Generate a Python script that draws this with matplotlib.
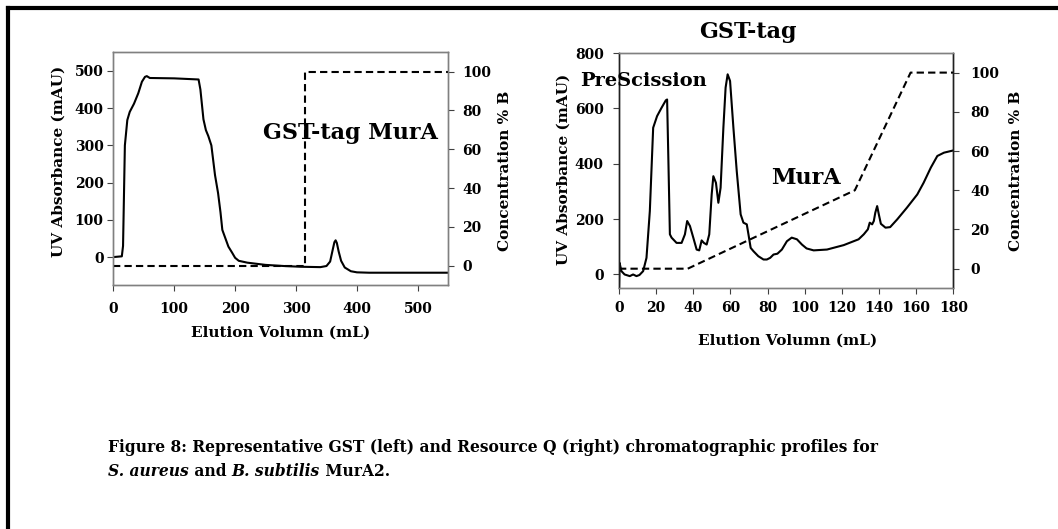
import numpy as np
import matplotlib
matplotlib.use("Agg")
import matplotlib.pyplot as plt
from matplotlib.lines import Line2D

plt.rcParams['font.family'] = ['DejaVu Serif']
plt.rcParams['font.weight'] = 'bold'

# GST column run: UV trace (mAU) and buffer B gradient (%)
gst_vol = [0, 14, 16, 19, 23, 27, 34, 41, 47, 52, 55, 60, 100, 140, 143, 148,
           152, 156, 161, 167, 172, 176, 179, 183, 189, 195, 200, 206, 220,
           250, 280, 308, 340, 350, 356, 360, 363, 365, 367, 370, 374, 380,
           390, 400, 420, 480, 550]
gst_uv = [0, 2, 30, 300, 368, 390, 412, 440, 471, 484, 486, 481, 480, 477,
          450, 370, 341, 325, 300, 220, 172, 120, 73, 55, 28, 12, -2, -10,
          -15, -21, -24, -26, -27, -24, -12, 18, 40, 45, 38, 15, -10, -28,
          -38, -41, -42, -42, -42]
gst_grad_vol = [0, 315, 315, 550]
gst_grad_b = [0, 0, 100, 100]

# Resource Q run
rq_vol = [0, 0.3, 1.3, 3, 5.8, 7.6, 9.4, 11, 13, 14.8, 16.6, 18.4, 20.5,
          22.9, 25.2, 25.9, 26.6, 27.4, 28.3, 31, 33.7, 35.5, 36.7, 38.2,
          40, 41.8, 43.2, 44.5, 45.7, 47.2, 48.6, 49.9, 50.8, 52.2, 53.5,
          54.7, 56.2, 57.4, 58.5, 59.8, 61.6, 63.4, 65.5, 67, 68.8, 69.7,
          70.9, 72.4, 75, 77.8, 79.6, 81.4, 83.2, 85.3, 87.7, 90.4, 93,
          95.8, 98.5, 101, 104.8, 112, 121, 129, 131.8, 134, 135, 136.3,
          137.2, 138, 139, 139.9, 141, 143.5, 146, 149.8, 155, 160.6, 164,
          167.9, 171.4, 175, 180]
rq_uv = [-50, 42, 12, 0, -6, 0, -6, -2, 12, 60, 229, 530, 572, 602, 629,
         632, 410, 145, 133, 114, 114, 145, 193, 175, 133, 90, 87, 123, 114,
         108, 145, 289, 355, 331, 259, 313, 530, 675, 723, 699, 530, 373,
         217, 187, 181, 145, 96, 84, 66, 54, 54, 60, 72, 75, 90, 120, 133,
         127, 108, 94, 87, 90, 106, 127, 145, 163, 187, 181, 193, 223, 247,
         217, 183, 169, 171, 199, 241, 289, 331, 386, 428, 440, 448]
rq_grad_vol = [0, 37, 127, 157, 180]
rq_grad_b = [0, 0, 40, 100, 100]

W, H = 1058, 529
spine_col = '#808080'
dash = (0, (3.5, 2))
tick_fs = 10
label_fs = 11


def px(x, y):
    # pixel position (from top-left) -> figure fraction
    return x / W, 1 - y / H


def setup(ax, ax2, xpad, lpad, rpad, ylab_pos, y2lab_pos, xlab_pos,
          side_col=spine_col):
    for a in (ax, ax2):
        for s in a.spines.values():
            s.set_color(spine_col)
            s.set_linewidth(1.0)
        a.spines['left'].set_color(side_col)
        a.spines['right'].set_color(side_col)
    ax.tick_params(axis='x', direction='out', length=4, width=0.8,
                   color='#404040', labelsize=tick_fs, pad=xpad)
    ax.tick_params(axis='y', direction='out', length=4, width=0.8,
                   color='#404040', labelsize=tick_fs, pad=lpad)
    ax2.set_ylim(-10, 110)
    ax2.set_yticks([0, 20, 40, 60, 80, 100])
    ax2.tick_params(axis='y', direction='out', length=4, width=0.8,
                    color='#404040', labelsize=tick_fs, pad=rpad)
    ax.text(*ylab_pos, 'UV Absorbance (mAU)', transform=ax.transAxes,
            rotation=90, ha='center', va='center', fontsize=label_fs)
    ax.text(*y2lab_pos, 'Concentration % B', transform=ax.transAxes,
            rotation=90, ha='center', va='center', fontsize=label_fs)
    ax.text(*xlab_pos, 'Elution Volumn (mL)', transform=ax.transAxes,
            ha='center', va='center', fontsize=label_fs)


fig = plt.figure(figsize=(W / 100, H / 100), dpi=100)

# left chromatogram (GST)
ax1 = fig.add_axes([113.3 / W, 1 - 285 / H, 335 / W, 232.7 / H])
ax1b = ax1.twinx()
ax1.plot(gst_vol, gst_uv, color='black', lw=1.5)
ax1b.plot(gst_grad_vol, gst_grad_b, color='black', lw=1.5, linestyle=dash)
ax1.set_xlim(0, 550)
ax1.set_ylim(-75, 550)
ax1.set_xticks([0, 100, 200, 300, 400, 500])
ax1.set_yticks([0, 100, 200, 300, 400, 500])
setup(ax1, ax1b, xpad=8, lpad=3, rpad=6,
      ylab_pos=(-0.162, 0.53), y2lab_pos=(1.169, 0.49),
      xlab_pos=(0.5, -0.206))
ax1.text(390, 333, 'GST-tag MurA', fontsize=16, ha='center', va='center')

# right chromatogram (Resource Q)
ax2 = fig.add_axes([619 / W, 1 - 288.3 / H, 334.3 / W, 235.3 / H])
ax2b = ax2.twinx()
ax2.plot(rq_vol, rq_uv, color='black', lw=1.5)
ax2b.plot(rq_grad_vol, rq_grad_b, color='black', lw=1.5, linestyle=dash)
ax2.set_xlim(0, 180)
ax2.set_ylim(-50, 800)
ax2.set_xticks(np.arange(0, 181, 20))
ax2.set_yticks([0, 200, 400, 600, 800])
setup(ax2, ax2b, xpad=5, lpad=7, rpad=8,
      ylab_pos=(-0.165, 0.507), y2lab_pos=(1.188, 0.5),
      xlab_pos=(0.504, -0.224), side_col='#202020')
fig.text(*px(748, 32), 'GST-tag', fontsize=16, ha='center', va='center')
fig.text(*px(643.5, 81), 'PreScission', fontsize=14, ha='center',
         va='center')
ax2.text(100.7, 348, 'MurA', fontsize=16, ha='center', va='center')

# caption, second line mixes italic species names with upright text
fig.text(*px(108, 447),
         'Figure 8: Representative GST (left) and Resource Q (right) '
         'chromatographic profiles for',
         fontsize=11.2, ha='left', va='center')
cap2 = [('S. aureus', 'italic'), (' and ', 'normal'),
        ('B. subtilis', 'italic'), (' MurA2.', 'normal')]
renderer = fig.canvas.get_renderer()
x0 = 108
for txt, style in cap2:
    t = fig.text(*px(x0, 471), txt, fontsize=11.2, fontstyle=style,
                 ha='left', va='center')
    x0 += t.get_window_extent(renderer=renderer).width

# outer frame on the top and left edges
fig.add_artist(Line2D([7.5 / W, 7.5 / W], [0, 1 - 7.5 / H],
                      transform=fig.transFigure, color='black', lw=3,
                      solid_capstyle='projecting'))
fig.add_artist(Line2D([7.5 / W, 1], [1 - 7.5 / H, 1 - 7.5 / H],
                      transform=fig.transFigure, color='black', lw=3,
                      solid_capstyle='projecting'))

fig.savefig('out.png', dpi=100)
